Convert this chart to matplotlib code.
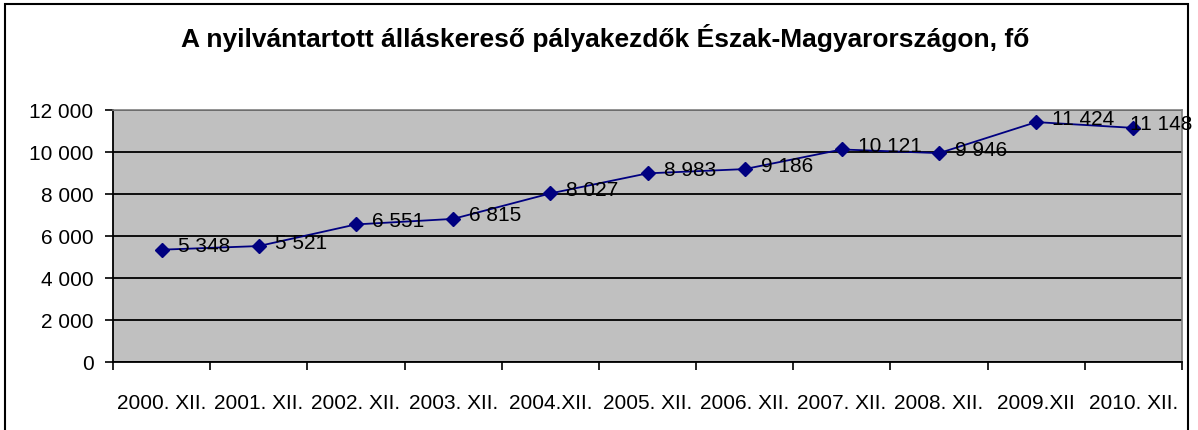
import matplotlib.pyplot as plt
from matplotlib.patches import Rectangle

plt.rcParams['font.family'] = ['Liberation Sans', 'DejaVu Sans']

# data
categories = ["2000. XII.", "2001. XII.", "2002. XII.", "2003. XII.", "2004.XII.",
              "2005. XII.", "2006. XII.", "2007. XII.", "2008. XII.", "2009.XII", "2010. XII."]
values = [5348, 5521, 6551, 6815, 8027, 8983, 9186, 10121, 9946, 11424, 11148]
y_ticks = [0, 2000, 4000, 6000, 8000, 10000, 12000]
title = "A nyilvántartott álláskereső pályakezdők Észak-Magyarországon, fő"


def fmt(v):
    return f"{v:,}".replace(",", " ")


fig = plt.figure(figsize=(11.98, 4.31), dpi=100)
ax = fig.add_axes([113 / 1198, 68 / 431, 1069 / 1198, 252 / 431])

# outer chart border
fig.patches.append(Rectangle((5 / 1198, -0.01), 1183 / 1198, 1.01 - 5 / 431,
                             transform=fig.transFigure, fill=False,
                             edgecolor="black", linewidth=1.5))

ax.set_facecolor("#C0C0C0")
x = list(range(len(values)))
ax.plot(x, values, color="#000080", linewidth=1.3, marker="D", markersize=7.5,
        zorder=3, clip_on=False)

for xi, v in zip(x, values):
    # Excel pulls the last label back so it stays inside the chart
    dx = 16 if xi < len(values) - 1 else -3
    ax.annotate(fmt(v), (xi, v), xytext=(dx, 4), textcoords="offset pixels",
                ha="left", va="center", fontsize=15, color="black", zorder=4,
                annotation_clip=False)

ax.set_xlim(-0.5, len(values) - 0.5)
ax.set_ylim(0, 12000)
ax.set_yticks(y_ticks)
ax.set_yticklabels([fmt(t) for t in y_ticks], fontsize=15)
ax.set_xticks(x)
ax.set_xticklabels(categories, fontsize=15)
ax.set_xticks([i - 0.5 for i in range(len(values) + 1)], minor=True)
ax.tick_params(axis="x", which="major", length=0, pad=22)
ax.tick_params(axis="x", which="minor", length=6, width=1.2, direction="out")
ax.tick_params(axis="y", length=6, width=1.2, direction="out", pad=8)

ax.grid(axis="y", color="black", linewidth=1.3)
ax.set_axisbelow(True)
for side in ("top", "right"):
    ax.spines[side].set_color("#808080")
    ax.spines[side].set_linewidth(1.2)
for side in ("left", "bottom"):
    ax.spines[side].set_color("black")
    ax.spines[side].set_linewidth(1.3)

fig.text(605 / 1198, 1 - 38 / 431, title, ha="center", va="center",
         fontsize=19, fontweight="bold")

fig.savefig("out.png", dpi=100)
